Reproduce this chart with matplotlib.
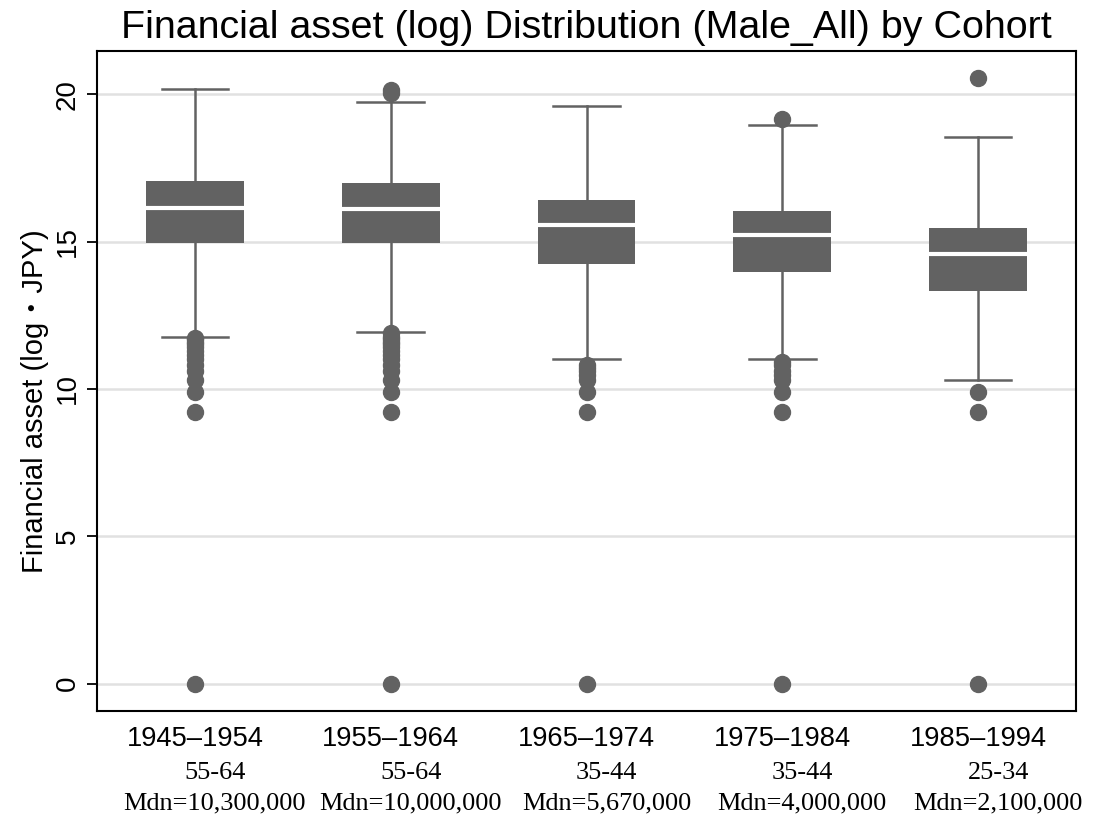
import matplotlib
matplotlib.use("Agg")
import matplotlib.pyplot as plt
from matplotlib.transforms import offset_copy, blended_transform_factory

# ---- data (log JPY) ----
cohorts = ["1945\u20131954", "1955\u20131964", "1965\u20131974", "1975\u20131984", "1985\u20131994"]
age_groups = ["55-64", "55-64", "35-44", "35-44", "25-34"]
medians_jpy = ["Mdn=10,300,000", "Mdn=10,000,000", "Mdn=5,670,000", "Mdn=4,000,000", "Mdn=2,100,000"]

q1 = [14.94, 14.94, 14.24, 13.97, 13.32]
med = [16.15, 16.12, 15.55, 15.22, 14.57]
q3 = [17.05, 16.98, 16.40, 16.03, 15.45]
whislo = [11.78, 11.93, 11.01, 11.01, 10.31]
whishi = [20.18, 19.74, 19.61, 18.95, 18.56]

fliers = [
    [11.74, 11.70, 11.61, 11.51, 11.41, 11.29, 11.16, 11.00, 10.82, 10.60, 10.31, 9.90, 9.21, 0.0],
    [20.15, 20.05, 11.90, 11.78, 11.70, 11.61, 11.51, 11.41, 11.29, 11.16, 11.00, 10.82, 10.60, 10.31, 9.90, 9.21, 0.0],
    [10.82, 10.70, 10.60, 10.46, 10.31, 9.90, 9.21, 0.0],
    [19.17, 10.90, 10.82, 10.60, 10.46, 10.31, 9.90, 9.21, 0.0],
    [20.54, 9.90, 9.21, 0.0],
]

yticks = [0, 5, 10, 15, 20]

BOX = "#626262"
GRID = "#e1e1e1"

plt.rcParams["font.family"] = ["Liberation Sans", "Noto Sans CJK JP", "DejaVu Sans"]

fig = plt.figure(figsize=(11.12, 8.19), dpi=100)
ax = fig.add_axes([97 / 1112, 1 - 711 / 819, (1076 - 97) / 1112, (711 - 51) / 819])

stats = []
for i in range(len(cohorts)):
    stats.append(dict(med=med[i], q1=q1[i], q3=q3[i], whislo=whislo[i], whishi=whishi[i],
                      fliers=fliers[i], label=cohorts[i]))

positions = list(range(1, len(cohorts) + 1))
ax.bxp(stats, positions=positions, widths=0.5, capwidths=0.34, patch_artist=True,
       boxprops=dict(facecolor=BOX, edgecolor=BOX, linewidth=0),
       medianprops=dict(color="white", linewidth=3.0, solid_capstyle="butt"),
       whiskerprops=dict(color=BOX, linewidth=1.8),
       capprops=dict(color=BOX, linewidth=1.8),
       flierprops=dict(marker="o", markersize=11.5, markerfacecolor=BOX, markeredgecolor=BOX,
                       linestyle="none"),
       zorder=3)

ax.set_xlim(0.5, len(cohorts) + 0.5)
ax.set_ylim(-0.93, 21.47)
ax.set_yticks(yticks)
ax.set_yticklabels([str(v) for v in yticks], rotation=90, va="center", fontsize=20)
ax.yaxis.grid(True, color=GRID, linewidth=1.8, zorder=0)
ax.set_axisbelow(True)
ax.tick_params(axis="y", length=7.5, width=1.3, pad=4, color="black")
ax.tick_params(axis="x", length=0, pad=11, labelsize=19.7)
ax.set_xticks(positions)
ax.set_xticklabels(cohorts)
for s in ax.spines.values():
    s.set_linewidth(1.5)
    s.set_color("black")

# second and third label lines (serif)
trans = blended_transform_factory(ax.transData, fig.transFigure)
for i, p in enumerate(positions):
    tx = offset_copy(trans, fig=fig, x=20, y=0, units="dots")
    ax.text(p, 1 - 779 / 819, age_groups[i], transform=tx, ha="center", va="baseline",
            fontsize=18.9, family="Liberation Serif")
    ax.text(p, 1 - 809 / 819, medians_jpy[i], transform=tx, ha="center", va="baseline",
            fontsize=18.9, family="Liberation Serif")

ax.set_ylabel("Financial asset (log\u30fbJPY)", fontsize=21)
ax.yaxis.set_label_coords(-0.049, 0.47)

ax.set_title("Financial asset (log) Distribution (Male_All) by Cohort", fontsize=28.4, pad=9)

fig.savefig("out.png", dpi=100, facecolor="white")
